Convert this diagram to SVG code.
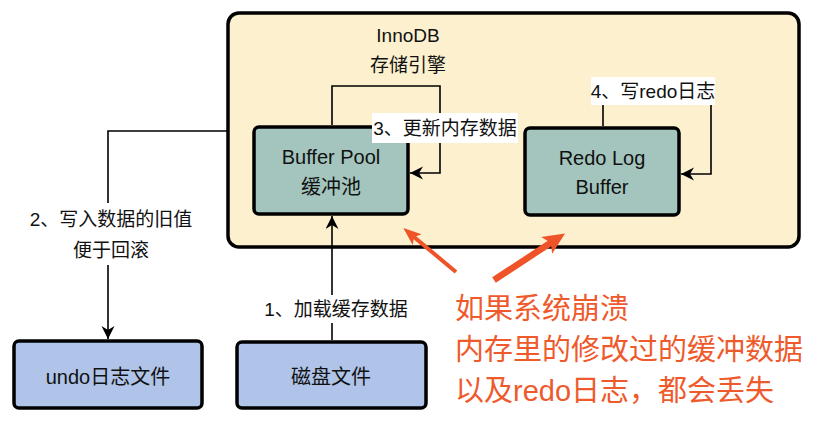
<svg xmlns="http://www.w3.org/2000/svg" width="823" height="440" viewBox="0 0 823 440">
<style>
text{font-family:"Liberation Sans","Noto Sans CJK SC",sans-serif;fill:#111;text-anchor:middle}
.node{stroke:#000;stroke-width:3.5}
.teal{fill:#A3C5BD}
.blue{fill:#AFC4E8}
.lbl{font-size:19px}
.ntxt{font-size:20px}
.conn{fill:none;stroke:#000;stroke-width:1.6}
.red{font-size:29px;fill:#EF5A2C;text-anchor:start}
.rline{stroke:#EF5428;fill:none}
</style>
<defs>
<marker id="ah" markerUnits="userSpaceOnUse" markerWidth="16" markerHeight="14" refX="13" refY="6.5" orient="auto">
<path d="M0,0 L13,6.5 L0,13 L4,6.5 Z" fill="#000"/>
</marker>
<marker id="rh1" markerUnits="userSpaceOnUse" markerWidth="20" markerHeight="16" refX="8" refY="7" orient="auto">
<path d="M0,0 L18,7 L0,14 L4,7 Z" fill="#EF5428"/>
</marker>
<marker id="rh2" markerUnits="userSpaceOnUse" markerWidth="24" markerHeight="22" refX="10" refY="10" orient="auto">
<path d="M0,0 L22,10 L0,20 L5,10 Z" fill="#EF5428"/>
</marker>
</defs>
<rect width="823" height="440" fill="#fff"/>

<g id="innodb">
<rect x="228" y="13" width="571" height="234" rx="11" fill="#FCF0CF" stroke="#000" stroke-width="3.5"/>
<text x="408" y="42" font-size="19">InnoDB</text>
<text x="408" y="72" font-size="19">存储引擎</text>
</g>

<g id="buffer-pool">
<rect class="node teal" x="254" y="127" width="154" height="87" rx="5"/>
<text class="ntxt" x="331" y="164">Buffer Pool</text>
<text class="ntxt" x="331" y="194">缓冲池</text>
</g>

<g id="redo-log-buffer">
<rect class="node teal" x="525" y="128" width="154" height="87" rx="5"/>
<text class="ntxt" x="602" y="165">Redo Log</text>
<text class="ntxt" x="602" y="194">Buffer</text>
</g>

<g id="undo-file">
<rect class="node blue" x="14" y="341" width="188" height="67" rx="5"/>
<text class="ntxt" x="108" y="384">undo日志文件</text>
</g>

<g id="disk-file">
<rect class="node blue" x="237" y="342" width="189" height="66" rx="5"/>
<text class="ntxt" x="331" y="384">磁盘文件</text>
</g>

<g id="connectors">
<path class="conn" d="M228,131 H108 V339" marker-end="url(#ah)"/>
<path class="conn" d="M332,340 V216" marker-end="url(#ah)"/>
<path class="conn" d="M332,125 V86 H440 V173 H410" marker-end="url(#ah)"/>
<path class="conn" d="M603,126 V91 H711 V174 H681" marker-end="url(#ah)"/>
<rect x="26" y="203" width="170" height="62" fill="#fff"/>
<text class="lbl" x="111" y="226">2、写入数据的旧值</text>
<text class="lbl" x="111" y="257">便于回滚</text>
<rect x="262" y="295" width="148" height="28" fill="#fff"/>
<text class="lbl" x="336" y="316">1、加载缓存数据</text>
<rect x="372" y="113" width="146" height="30" fill="#fff"/>
<text class="lbl" x="445" y="135">3、更新内存数据</text>
<rect x="591" y="77" width="124" height="28" fill="#fff"/>
<text class="lbl" x="653" y="98">4、写redo日志</text>
<line class="rline" x1="456" y1="272" x2="411" y2="234.5" stroke-width="4" marker-end="url(#rh1)"/>
<line class="rline" x1="494" y1="280" x2="555" y2="240" stroke-width="6.5" marker-end="url(#rh2)"/>
</g>

<g id="crash-note">
<text class="red" x="455" y="319">如果系统崩溃</text>
<text class="red" x="455" y="360">内存里的修改过的缓冲数据</text>
<text class="red" x="455" y="401">以及redo日志，都会丢失</text>
</g>
</svg>
